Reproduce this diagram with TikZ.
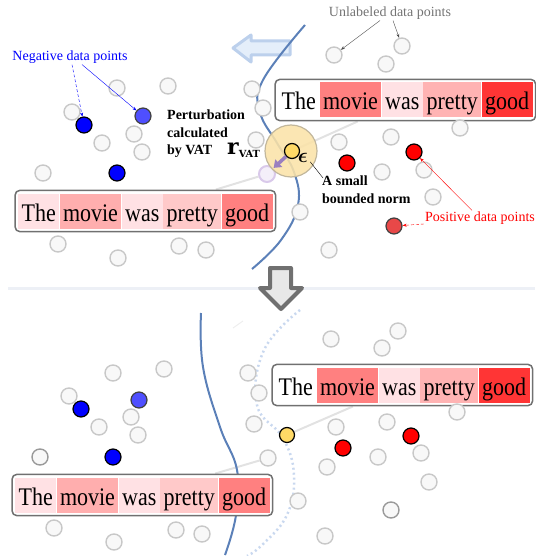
\documentclass[tikz,border=0pt]{standalone}
\usepackage{fontspec}
\usepackage{bm}
\setmainfont{Liberation Serif}
\newfontfamily\rvfont{DejaVu Serif}
\usetikzlibrary{positioning,fit,arrows.meta}

\definecolor{ptgray}{HTML}{C8C8C8}
\definecolor{ptdark}{HTML}{9A9A9A}
\definecolor{ptfill}{HTML}{F8F8F8}
\definecolor{negblue}{HTML}{0000FF}
\definecolor{neglight}{HTML}{4F4FFF}
\definecolor{posred}{HTML}{FF0000}
\definecolor{poslight}{HTML}{E84848}
\definecolor{advyellow}{HTML}{FFD966}
\definecolor{ballfill}{HTML}{FBE3A8}
\definecolor{ballline}{HTML}{C2B79C}
\definecolor{vatpurple}{HTML}{9A7FC0}
\definecolor{ghost}{HTML}{D9C9EA}
\definecolor{curveblue}{HTML}{5B80B8}
\definecolor{dotblue}{HTML}{C9D8EF}
\definecolor{arrowblue}{HTML}{BCD0EC}
\definecolor{arrowfill}{HTML}{E4EEFA}
\definecolor{linkgray}{HTML}{E2E2E2}
\definecolor{sepgray}{HTML}{EDF0F6}
\definecolor{boxgray}{HTML}{707070}
\definecolor{pinkA}{HTML}{FFE1E4}
\definecolor{pinkB}{HTML}{FFAEAE}
\definecolor{pinkC}{HTML}{FFC9C9}
\definecolor{redA}{HTML}{FF8080}
\definecolor{redB}{HTML}{FFB3B3}
\definecolor{redC}{HTML}{FF3535}

\pgfdeclarelayer{back}
\pgfdeclarelayer{mid}
\pgfsetlayers{back,mid,main}

\newcommand{\tall}[1]{\scalebox{1}[1.15]{#1}}
% one sentence: name, position, five cell colours
\newcommand{\moviebox}[7]{%
  \node[cell,fill=#3,anchor=west] (#1t) at (#2) {\tall{The}};
  \node[cell,fill=#4,right=0pt of #1t] (#1m) {\tall{movie}};
  \node[cell,fill=#5,right=0pt of #1m] (#1w) {\tall{was}};
  \node[cell,fill=#6,right=0pt of #1w] (#1p) {\tall{pretty}};
  \node[cell,fill=#7,right=0pt of #1p] (#1g) {\tall{good}};
  \begin{pgfonlayer}{mid}
    \node[sbox,fit=(#1t)(#1g)] (#1) {};
  \end{pgfonlayer}}

\begin{document}
\begin{tikzpicture}[x=1pt,y=-1pt,
    dot/.style={circle,minimum size=16pt,inner sep=0pt,line width=1.4pt,draw=ptgray,fill=ptfill},
    dkdot/.style={dot,draw=ptdark},
    negdot/.style={circle,minimum size=16pt,inner sep=0pt,line width=1.2pt,draw=black,fill=negblue},
    negldot/.style={negdot,fill=neglight,draw=black!75},
    posdot/.style={negdot,fill=posred},
    posldot/.style={negdot,fill=poslight,draw=black!75},
    advdot/.style={negdot,minimum size=15pt,fill=advyellow},
    cell/.style={inner xsep=3.4pt,inner ysep=0pt,minimum height=35pt,text height=20pt,text depth=0pt,font=\fontsize{22}{24}\selectfont},
    sbox/.style={draw=boxgray,line width=1.5pt,rounded corners=5pt,fill=white,inner sep=3pt},
    link/.style={linkgray,line width=2pt},
    lbl/.style={inner sep=1pt,font=\fontsize{14}{16}\selectfont},
    blbl/.style={inner sep=0pt,align=left,font=\bfseries\fontsize{14}{17.5}\selectfont},
    ann/.style={-{Stealth[length=4pt,width=3pt]},line width=0.4pt}]
  \useasboundingbox (0,0) rectangle (535,556);

  % decision boundaries
  \begin{pgfonlayer}{mid}
    \draw[curveblue,line width=2pt] plot[smooth,tension=0.7] coordinates
      {(305,25) (263,80) (260,112) (277,143) (294,172) (298,205) (281,240) (252,269)};
    \draw[curveblue,line width=2pt] plot[smooth,tension=0.7] coordinates
      {(201,313) (203,367) (220,427) (237,470) (236,515) (225,555)};
    \draw[dotblue,line width=2.5pt,dash pattern=on 2pt off 3pt] plot[smooth,tension=0.7] coordinates
      {(300,310) (264,350) (257,405) (283,438) (294,475) (287,515) (262,545) (247,556)};
  \end{pgfonlayer}

  % unlabeled data points
  \foreach \p in {(117,88),(168,86),(72,112),(134,134),(102,143),(142,152),(43,173),
      (58,244),(118,258),(179,246),(206,250),(252,89),(263,108),(256,140),(386,64),
      (339,142),(391,137),(460,128),(382,172),(424,170),(433,197),(300,212),(329,250),
      (113,373),(164,369),(69,396),(131,417),(99,427),(138,435),(54,528),(114,542),
      (176,530),(202,534),(248,373),(259,393),(254,424),(331,339),(398,331),(382,348),
      (336,427),(387,422),(457,412),(378,457),(421,453),(327,467),(429,482),(298,501),
      (325,536)}
    \node[dot] at \p {};
  \node[dkdot] (d1) at (40,457) {};
  \node[dkdot] (d2) at (391,510) {};
  \node[dot] (ua) at (334,55) {};
  \node[dot] (ub) at (402,46) {};
  \node[dot] (uc) at (268,458) {};
  \node[circle,minimum size=16pt,inner sep=0pt,line width=2pt,draw=ghost,fill=ghost!30] (gh) at (267,174) {};

  % labeled data points
  \node[negdot] (n1) at (84,125) {};
  \node[negldot] (n2) at (143,116) {};
  \node[negdot] (n3) at (117,173) {};
  \node[negdot] (m1) at (81,409) {};
  \node[negldot] (m2) at (139,400) {};
  \node[negdot] (m3) at (113,457) {};
  \node[posdot] (p1) at (347,163) {};
  \node[posdot] (p2) at (414,152) {};
  \node[posldot] (p3) at (394,226) {};
  \node[posdot] (q1) at (343,448) {};
  \node[posdot] (q2) at (411,436) {};

  % perturbation ball
  \node[circle,minimum size=52pt,inner sep=0pt,draw=ballline,line width=1.2pt,fill=ballfill,fill opacity=0.88] (ball) at (291,151) {};
  \node[advdot] (y1) at (292,151) {};
  \node[advdot] (y2) at (287,435) {};

  % sentences
  \moviebox{b1}{278,100}{white}{redA}{pinkA}{redB}{redC}
  \moviebox{b2}{18,211}{pinkA}{pinkB}{pinkA}{pinkC}{redA}
  \moviebox{b3}{275,385}{white}{redA}{pinkA}{redB}{redC}
  \moviebox{b4}{15,495}{pinkA}{pinkB}{pinkA}{pinkC}{redA}

  \begin{pgfonlayer}{back}
    \draw[sepgray,line width=3pt] (8,288) -- (535,288);
    \draw[link] (y1) -- (b1);
    \draw[link] (gh) -- (b2);
    \draw[link] (y2) -- (b3);
    \draw[link] (uc) -- (b4);
    \draw[linkgray!60,line width=1pt] (233,328) -- (243,321);
    \draw[draw=arrowblue,fill=arrowfill,line width=3pt,line join=round]
      (233,48) -- (251,35) -- (251,41) -- (290,41) -- (290,55) -- (251,55) -- (251,62) -- cycle;
  \end{pgfonlayer}

  % VAT direction
  \draw[vatpurple,line width=3.5pt,-{Triangle[length=7pt,width=10pt]}] (y1) -- (gh);
  \node[inner sep=0pt,font=\fontsize{21}{21}\selectfont] (eps) at (303,158) {$\bm{\epsilon}$};
  \node[inner sep=0pt,anchor=base west] (rv) at (227,155)
    {\rvfont\bfseries\fontsize{22}{22}\selectfont r\raisebox{-2pt}{\fontsize{9.8}{10}\selectfont VAT}};

  % annotations
  \node[lbl,text=negblue] (negt) at (70,57) {Negative data points};
  \draw[ann,negblue,densely dashed] ([xshift=2pt]negt.south) -- (n1);
  \draw[ann,negblue] ([xshift=12pt]negt.south) -- (n2);
  \node[lbl,text=black!55] (unlt) at (390,13) {Unlabeled data points};
  \draw[ann,black!70] ([xshift=-10pt]unlt.south) -- (ua);
  \draw[ann,black!70] ([xshift=3pt]unlt.south) -- (ub);
  \node[lbl,text=posred] (post) at (480,218) {Positive data points};
  \draw[ann,posred,densely dashed] ([yshift=-6pt]post.west) -- (p3);
  \draw[ann,posred] ([xshift=-8pt]post.north) -- (p2);
  \node[blbl,anchor=north west] (pert) at (167,110) {Perturbation\\calculated\\by VAT};
  \node[blbl,anchor=north west] (norm) at (322,176) {A small\\bounded norm};
  \draw[line width=0.4pt] ([xshift=2pt,yshift=1pt]eps.south east) -- ([xshift=1pt,yshift=-2pt]norm.north west);

  % step to the retrained boundary
  \draw[boxgray,fill=black!9,line width=4pt,line join=round]
    (270,268) -- (291,268) -- (291,288) -- (302,288) -- (281,309) -- (260,288) -- (270,288) -- cycle;
\end{tikzpicture}
\end{document}
